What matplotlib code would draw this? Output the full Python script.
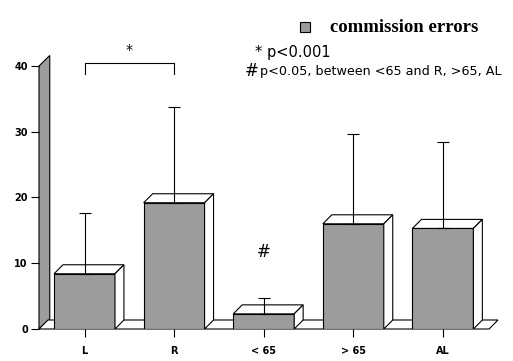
import numpy as np
import matplotlib
matplotlib.use('Agg')
import matplotlib.pyplot as plt
from matplotlib.patches import Polygon, Rectangle

# data
groups = ['L', 'R', '< 65', '> 65', 'AL']
means = [8.4, 19.2, 2.3, 16.0, 15.3]
sd = [9.3, 14.5, 2.4, 13.6, 13.2]

W, H = 513, 361
fig = plt.figure(figsize=(W / 100, H / 100), dpi=100)
# axes: left edge at px 39, right at px 500, y=0 at px 329, y=40 at px 66
ax = fig.add_axes([39 / W, (H - 329) / H, (500 - 39) / W, (329 - 66) / H])
ax.set_xlim(-0.508, 4.637)
ax.set_ylim(0, 40)
for s in ax.spines.values():
    s.set_visible(False)

gray = '#9c9c9c'
bw = 0.68          # bar width in category units
dx, dy = 0.1, 1.37  # depth offset (about 9 px each way)

# back wall and floor
xl, xr = -0.508, 4.515
ax.add_patch(Polygon([(xl, 0), (xl, 40), (xl + 0.12, 41.6), (xl + 0.12, 1.5)],
                     closed=True, facecolor=gray, edgecolor='black', lw=0.8,
                     clip_on=False, zorder=1))
ax.add_patch(Polygon([(xl, 0), (xr, 0), (xr + dx, dy), (xl + dx, dy)],
                     closed=True, facecolor='white', edgecolor='black', lw=0.8,
                     clip_on=False, zorder=1))

x = np.arange(len(groups))
ax.bar(x, means, width=bw, color=gray, edgecolor='black', linewidth=0.8, zorder=3)
for xi, m in zip(x, means):
    x0, x1 = xi - bw / 2, xi + bw / 2
    ax.add_patch(Polygon([(x0, m), (x1, m), (x1 + dx, m + dy), (x0 + dx, m + dy)],
                         closed=True, facecolor='white', edgecolor='black', lw=0.8, zorder=3))
    ax.add_patch(Polygon([(x1, 0), (x1 + dx, dy), (x1 + dx, m + dy), (x1, m)],
                         closed=True, facecolor='white', edgecolor='black', lw=0.8, zorder=3))

# one-sided error bars
ax.errorbar(x, means, yerr=[np.zeros(len(sd)), sd], fmt='none', ecolor='black',
            elinewidth=0.8, capsize=4, capthick=0.8, zorder=4)

# significance bracket
ax.plot([0, 0, 1, 1], [38.8, 40.5, 40.5, 38.8], color='black', lw=0.8, clip_on=False)
ax.text(0.5, 42.4, '*', ha='center', va='center', fontsize=10)
ax.text(2, 11.7, '#', ha='center', va='center', fontsize=12)

ax.set_yticks([0, 10, 20, 30, 40])
ax.set_xticks(x)
ax.set_xticklabels(groups)
ax.tick_params(axis='y', length=6, width=0.8, pad=2, labelsize=7)
ax.tick_params(axis='x', length=6, width=0.8, pad=6, labelsize=7)
for lab in ax.get_xticklabels() + ax.get_yticklabels():
    lab.set_fontweight('bold')

# legend and notes
fig.patches.append(Rectangle((300 / W, 1 - 32 / H), 10 / W, 10 / H, transform=fig.transFigure,
                             facecolor=gray, edgecolor='black', lw=0.8))
fig.text(330 / W, 1 - 27 / H, 'commission errors', family='Liberation Serif',
         fontweight='bold', fontsize=13.5, va='center')
fig.text(255 / W, 1 - 52 / H, '* p<0.001', fontsize=10.5, va='center')
fig.text(245 / W, 1 - 71 / H, '#', fontsize=12, va='center')
fig.text(260 / W, 1 - 71 / H, 'p<0.05, between <65 and R, >65, AL', fontsize=9.2, va='center')

fig.savefig('out.png', dpi=100)
